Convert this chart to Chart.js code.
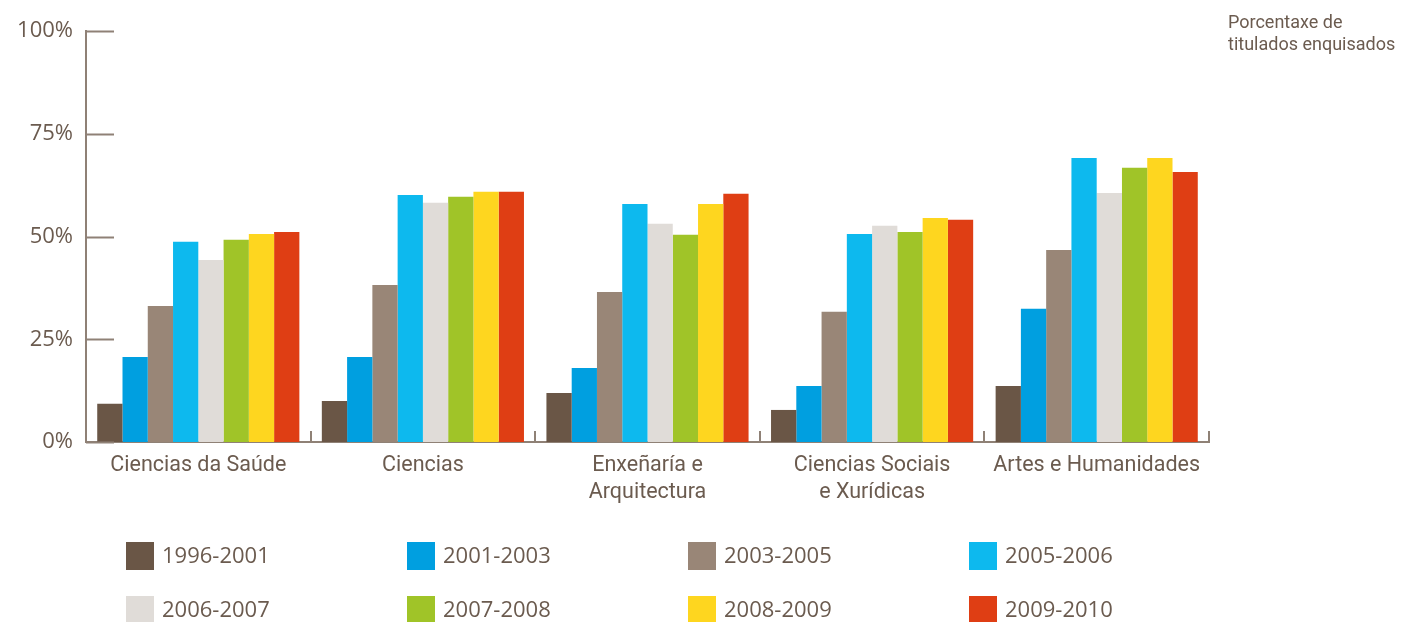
<!DOCTYPE html>
<html>
<head>
<meta charset="utf-8">
<script src="https://cdn.jsdelivr.net/npm/chart.js@4.4.1/dist/chart.umd.min.js"></script>
<style>
    html, body { margin: 0; padding: 0; background: #fff; }
    #wrap { width: 1402px; height: 622px; }
</style>
</head>
<body>
<div id="wrap"><canvas id="chart" width="1402" height="622"></canvas></div>
<script>
// categories (multi-line labels as arrays)
const categories = [
    ["Ciencias da Saúde"],
    ["Ciencias"],
    ["Enxeñaría e", "Arquitectura"],
    ["Ciencias Sociais", "e Xurídicas"],
    ["Artes e Humanidades"]
];

const periods = ["1996-2001", "2001-2003", "2003-2005", "2005-2006",
                 "2006-2007", "2007-2008", "2008-2009", "2009-2010"];

const periodColors = ["#6a5646", "#009fe0", "#998677", "#0db9ee",
                      "#e0dcd8", "#a0c428", "#fed61f", "#df3e14"];

const s1996_2001 = [9.3, 10.0, 11.9, 7.8, 13.6];
const s2001_2003 = [20.7, 20.7, 18.0, 13.6, 32.4];
const s2003_2005 = [33.1, 38.2, 36.5, 31.7, 46.7];
const s2005_2006 = [48.7, 60.1, 57.9, 50.6, 69.1];
const s2006_2007 = [44.3, 58.2, 53.1, 52.6, 60.6];
const s2007_2008 = [49.2, 59.7, 50.4, 51.1, 66.7];
const s2008_2009 = [50.6, 60.9, 57.9, 54.5, 69.1];
const s2009_2010 = [51.1, 60.9, 60.4, 54.1, 65.7];

const yTicks = [0, 25, 50, 75, 100];
const noteLines = ["Porcentaxe de", "titulados enquisados"];

const allSeries = [s1996_2001, s2001_2003, s2003_2005, s2005_2006,
                   s2006_2007, s2007_2008, s2008_2009, s2009_2010];

const textColor = "#6b5b4f";
const axisColor = "#8f8176";

// short inward ticks, category dividers, corner note and legend grid
const extras = {
    id: 'extras',
    afterDatasetsDraw(chart) {
        const ctx = chart.ctx;
        const area = chart.chartArea;
        const x = chart.scales.x;
        const y = chart.scales.y;

        ctx.save();
        ctx.strokeStyle = axisColor;
        ctx.lineWidth = 2;

        yTicks.forEach(v => {
            const py = Math.round(y.getPixelForValue(v)) + 0.5;
            ctx.beginPath();
            ctx.moveTo(area.left, py);
            ctx.lineTo(area.left + 28, py);
            ctx.stroke();
        });

        for (let i = 1; i <= categories.length; i++) {
            const px = Math.round(x.getPixelForValue(i - 0.5));
            ctx.beginPath();
            ctx.moveTo(px, area.bottom);
            ctx.lineTo(px, area.bottom - 11);
            ctx.stroke();
        }

        ctx.fillStyle = textColor;
        ctx.font = '18px Roboto';
        ctx.textAlign = 'left';
        ctx.textBaseline = 'alphabetic';
        noteLines.forEach((t, i) => ctx.fillText(t, 1228, 28 + i * 22));

        ctx.font = '22px "Open Sans"';
        ctx.textBaseline = 'middle';
        chart.data.datasets.forEach((ds, i) => {
            const col = i % 4;
            const row = Math.floor(i / 4);
            const bx = 126 + col * 281;
            const by = 542 + row * 54;
            ctx.fillStyle = ds.backgroundColor;
            ctx.fillRect(bx, by, 28, 28);
            ctx.fillStyle = textColor;
            ctx.fillText(ds.label, bx + 36, by + 15);
        });

        ctx.restore();
    }
};

const ctx = document.getElementById('chart').getContext('2d');

new Chart(ctx, {
    type: 'bar',
    data: {
        labels: categories,
        datasets: periods.map((p, i) => ({
            label: p,
            data: allSeries[i],
            backgroundColor: periodColors[i],
            borderWidth: 0,
            categoryPercentage: 0.9,
            barPercentage: 1.0
        }))
    },
    options: {
        responsive: false,
        animation: false,
        layout: {
            padding: { top: 31, right: 193, left: 0, bottom: 0 }
        },
        plugins: {
            legend: { display: false },
            tooltip: { enabled: false }
        },
        scales: {
            x: {
                grid: { display: false, drawTicks: false },
                border: { color: axisColor, width: 2 },
                ticks: {
                    color: textColor,
                    font: { family: 'Roboto', size: 21.5, lineHeight: 1.22 },
                    padding: 11,
                    maxRotation: 0,
                    autoSkip: false
                },
                afterFit(scale) { scale.height = 180; }
            },
            y: {
                min: 0,
                max: 100,
                afterBuildTicks(scale) {
                    scale.ticks = yTicks.map(v => ({ value: v }));
                },
                grid: { display: false, drawTicks: false },
                border: { color: axisColor, width: 2 },
                ticks: {
                    color: textColor,
                    font: { family: '"Open Sans"', size: 22 },
                    padding: 13,
                    callback: v => v + '%'
                },
                afterFit(scale) { scale.width = 86; }
            }
        }
    },
    plugins: [extras]
});
</script>
</body>
</html>
